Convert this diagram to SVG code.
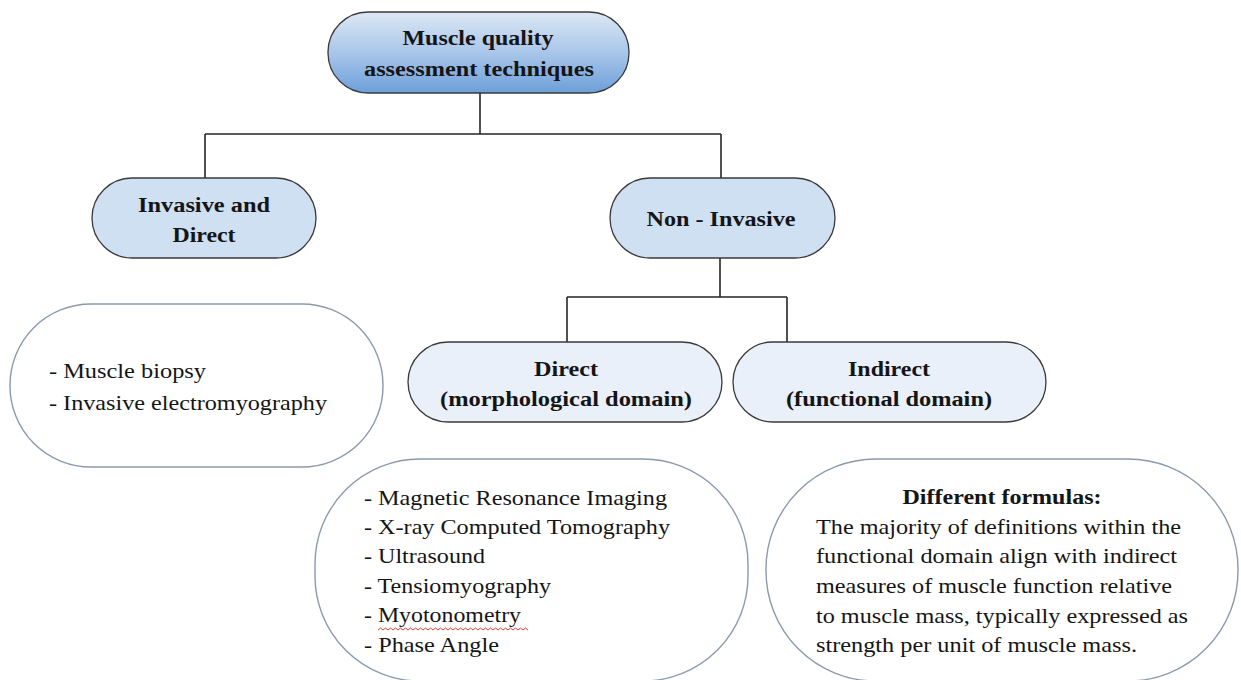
<svg xmlns="http://www.w3.org/2000/svg" width="1241" height="680" viewBox="0 0 1241 680">
  <defs>
    <linearGradient id="rootFill" x1="0" y1="0" x2="0" y2="1">
      <stop offset="0" stop-color="#dce8f5"/>
      <stop offset="0.5" stop-color="#a9c6ea"/>
      <stop offset="1" stop-color="#6d9fd9"/>
    </linearGradient>
    <style>
      .pill { stroke: #3a3a3a; stroke-width: 1.3; }
      .lvl1 { fill: #cfe0f3; }
      .lvl2 { fill: #e9f0f9; }
      .note { fill: #ffffff; stroke: #8b9aac; stroke-width: 1.4; }
      .wire { fill: none; stroke: #262626; stroke-width: 1.6; }
      text { font-family: 'Liberation Serif', Tinos, 'Times New Roman', 'DejaVu Serif', 'Noto Serif', serif; fill: #151515; }
      .hd { font-weight: bold; font-size: 20px; text-anchor: middle; }
      .tx { font-size: 21.5px; }
      .txb { font-size: 21.5px; font-weight: bold; text-anchor: middle; }
    </style>
  </defs>
  <rect width="1241" height="680" fill="#ffffff"/>

  <!-- tree connectors -->
  <g id="connectors">
    <path class="wire" d="M480 93 V134 M205 134 H721 M205 134 V178 M721 134 V178"/>
    <path class="wire" d="M720 258 V297 M567 297 H787 M567 297 V342 M787 297 V342"/>
  </g>

  <g id="root">
    <rect class="pill" x="328" y="12" width="301" height="81" rx="40" fill="url(#rootFill)"/>
    <text class="hd" x="478" y="45" textLength="151" lengthAdjust="spacingAndGlyphs">Muscle quality</text>
    <text class="hd" x="479" y="76" textLength="230" lengthAdjust="spacingAndGlyphs">assessment techniques</text>
  </g>

  <g id="invasive">
    <rect class="pill lvl1" x="92" y="178" width="224" height="80" rx="40"/>
    <text class="hd" x="204" y="212" textLength="132" lengthAdjust="spacingAndGlyphs">Invasive and</text>
    <text class="hd" x="204" y="242" textLength="63" lengthAdjust="spacingAndGlyphs">Direct</text>
  </g>

  <g id="non-invasive">
    <rect class="pill lvl1" x="610" y="178" width="225" height="80" rx="40"/>
    <text class="hd" x="721" y="226" textLength="149" lengthAdjust="spacingAndGlyphs">Non - Invasive</text>
  </g>

  <g id="direct">
    <rect class="pill lvl2" x="408" y="342" width="314" height="80" rx="40"/>
    <text class="hd" x="566" y="376" textLength="64" lengthAdjust="spacingAndGlyphs">Direct</text>
    <text class="hd" x="566" y="406" textLength="252" lengthAdjust="spacingAndGlyphs">(morphological domain)</text>
  </g>

  <g id="indirect">
    <rect class="pill lvl2" x="733" y="342" width="313" height="80" rx="40"/>
    <text class="hd" x="889" y="376" textLength="82" lengthAdjust="spacingAndGlyphs">Indirect</text>
    <text class="hd" x="889" y="406" textLength="206" lengthAdjust="spacingAndGlyphs">(functional domain)</text>
  </g>

  <g id="invasive-list">
    <rect class="note" x="10" y="304" width="373" height="163" rx="81"/>
    <text class="tx" x="49" y="378" textLength="157" lengthAdjust="spacingAndGlyphs">- Muscle biopsy</text>
    <text class="tx" x="49" y="410" textLength="278" lengthAdjust="spacingAndGlyphs">- Invasive electromyography</text>
  </g>

  <g id="direct-list">
    <rect class="note" x="315" y="459" width="433" height="222" rx="105"/>
    <text class="tx" x="364" y="505" textLength="303" lengthAdjust="spacingAndGlyphs">- Magnetic Resonance Imaging</text>
    <text class="tx" x="364" y="534" textLength="306" lengthAdjust="spacingAndGlyphs">- X-ray Computed Tomography</text>
    <text class="tx" x="364" y="563" textLength="121" lengthAdjust="spacingAndGlyphs">- Ultrasound</text>
    <text class="tx" x="364" y="593" textLength="187" lengthAdjust="spacingAndGlyphs">- Tensiomyography</text>
    <text class="tx" x="364" y="622" textLength="157" lengthAdjust="spacingAndGlyphs">- Myotonometry</text>
    <text class="tx" x="364" y="652" textLength="135" lengthAdjust="spacingAndGlyphs">- Phase Angle</text>
    <!-- spell-check squiggle -->
    <path d="M378 630 l2.5 -2 l2.5 2 l2.5 -2 l2.5 2 l2.5 -2 l2.5 2 l2.5 -2 l2.5 2 l2.5 -2 l2.5 2 l2.5 -2 l2.5 2 l2.5 -2 l2.5 2 l2.5 -2 l2.5 2 l2.5 -2 l2.5 2 l2.5 -2 l2.5 2 l2.5 -2 l2.5 2 l2.5 -2 l2.5 2 l2.5 -2 l2.5 2 l2.5 -2 l2.5 2 l2.5 -2 l2.5 2 l2.5 -2 l2.5 2 l2.5 -2 l2.5 2 l2.5 -2 l2.5 2 l2.5 -2 l2.5 2 l2.5 -2 l2.5 2 l2.5 -2 l2.5 2 l2.5 -2 l2.5 2 l2.5 -2 l2.5 2 l2.5 -2 l2.5 2 l2.5 -2 l2.5 2 l2.5 -2 l2.5 2 l2.5 -2 l2.5 2 l2.5 -2 l2.5 2 l2.5 -2 l2.5 2 l2.5 -2 l2.5 2" fill="none" stroke="#e0403a" stroke-width="1"/>
  </g>

  <g id="indirect-note">
    <rect class="note" x="766" y="459" width="472" height="222" rx="110"/>
    <text class="txb" x="1002" y="504" textLength="199" lengthAdjust="spacingAndGlyphs">Different formulas:</text>
    <text class="tx" x="816" y="534" textLength="365" lengthAdjust="spacingAndGlyphs">The majority of definitions within the</text>
    <text class="tx" x="816" y="563" textLength="361" lengthAdjust="spacingAndGlyphs">functional domain align with indirect</text>
    <text class="tx" x="816" y="593" textLength="356" lengthAdjust="spacingAndGlyphs">measures of muscle function relative</text>
    <text class="tx" x="816" y="623" textLength="372" lengthAdjust="spacingAndGlyphs">to muscle mass, typically expressed as</text>
    <text class="tx" x="816" y="652" textLength="321" lengthAdjust="spacingAndGlyphs">strength per unit of muscle mass.</text>
  </g>
</svg>
